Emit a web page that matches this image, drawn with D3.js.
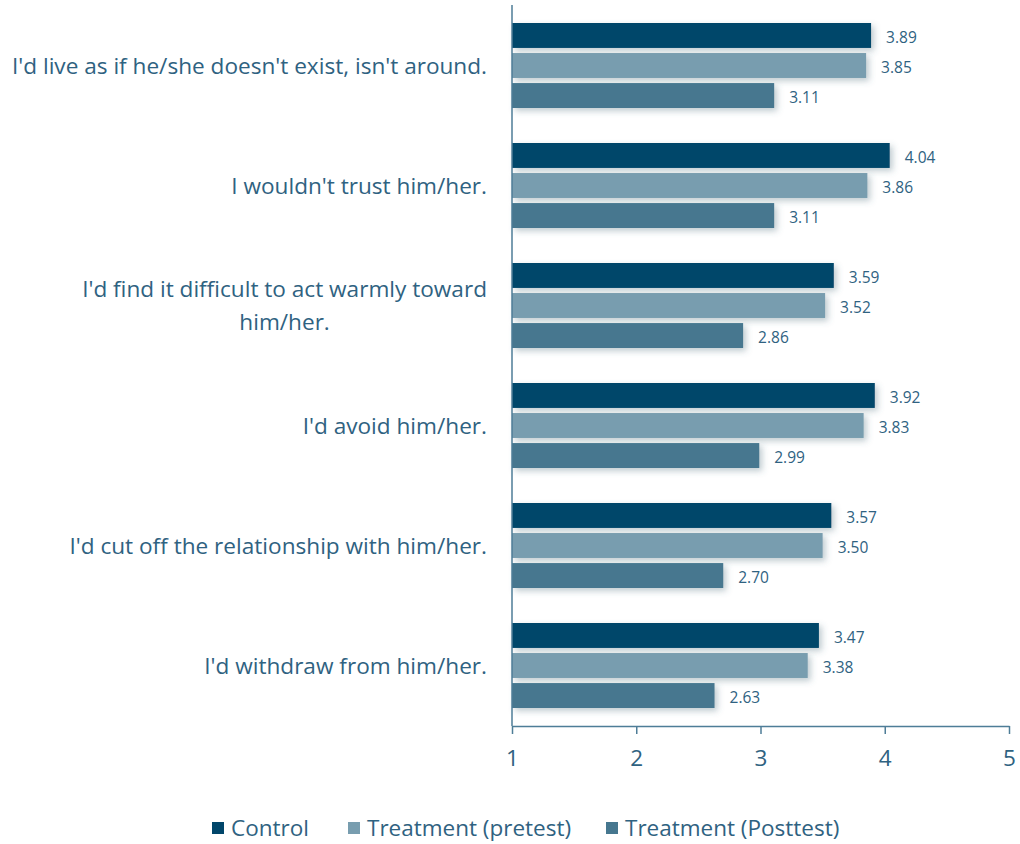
<!DOCTYPE html>
<html>
<head>
<meta charset="utf-8">
<script src="https://cdn.jsdelivr.net/npm/d3@7/dist/d3.min.js"></script>
<style>
  html, body { margin: 0; padding: 0; background: #ffffff; }
  svg { display: block; font-family: "Open Sans", "Noto Sans", sans-serif; }
</style>
</head>
<body>
<svg id="chart" width="1020" height="844"></svg>
<script>
// Statements (categories), top to bottom
const statements = [
  "I'd live as if he/she doesn't exist, isn't around.",
  "I wouldn't trust him/her.",
  "I'd find it difficult to act warmly toward him/her.",
  "I'd avoid him/her.",
  "I'd cut off the relationship with him/her.",
  "I'd withdraw from him/her."
];

// Series names
const seriesNames = ["Control", "Treatment (pretest)", "Treatment (Posttest)"];

// Mean scores per series, in statement order
const controlValues  = [3.89, 4.04, 3.59, 3.92, 3.57, 3.47];
const pretestValues  = [3.85, 3.86, 3.52, 3.83, 3.50, 3.38];
const posttestValues = [3.11, 3.11, 2.86, 2.99, 2.70, 2.63];

// Axis ticks
const xTicks = [1, 2, 3, 4, 5];

const seriesColors = ["#01466a", "#789daf", "#46778f"];
const textColor = "#2f6281";
const axisColor = "#4e7d97";

const seriesValues = [controlValues, pretestValues, posttestValues];
const rows = statements.map((s, i) => ({
  label: s,
  values: seriesNames.map((n, k) => ({ key: n, k, value: seriesValues[k][i] }))
}));

const svg = d3.select("#chart");

// shadow under the bars
const defs = svg.append("defs");
const f = defs.append("filter").attr("id", "barShadow")
  .attr("x", "-5%").attr("y", "-40%").attr("width", "115%").attr("height", "200%");
f.append("feDropShadow").attr("dx", 3).attr("dy", 3).attr("stdDeviation", 3)
  .attr("flood-color", "#4a6a7a").attr("flood-opacity", 0.35);

const plotLeft = 512, plotRight = 1009, plotTop = 6, plotBottom = 726;

const x = d3.scaleLinear().domain([1, 5]).range([plotLeft, plotRight]);
const y = d3.scaleBand().domain(statements).range([plotTop, plotBottom]).padding(0);
const inner = d3.scaleBand().domain(seriesNames).range([17, 102]).paddingInner(0.17);

// bars
const groups = svg.append("g").selectAll("g.group")
  .data(rows).join("g")
  .attr("class", "group")
  .attr("transform", d => `translate(0,${y(d.label)})`);

groups.selectAll("rect")
  .data(d => d.values).join("rect")
  .attr("x", x(1))
  .attr("y", d => inner(d.key))
  .attr("width", d => x(d.value) - x(1))
  .attr("height", inner.bandwidth())
  .attr("fill", d => seriesColors[d.k])
  .attr("filter", "url(#barShadow)");

// value labels
groups.selectAll("text.val")
  .data(d => d.values).join("text")
  .attr("class", "val")
  .attr("x", d => x(d.value) + 15)
  .attr("y", d => inner(d.key) + inner.bandwidth() / 2 + 2)
  .attr("dy", "0.35em")
  .attr("font-size", 15.5)
  .attr("fill", textColor)
  .text(d => d.value.toFixed(2));

// x axis
const xAxis = svg.append("g")
  .attr("transform", `translate(0,${plotBottom})`)
  .call(d3.axisBottom(x).tickValues(xTicks).tickFormat(d3.format("d")).tickSize(8).tickSizeOuter(0));
xAxis.select(".domain").attr("stroke", axisColor).attr("stroke-width", 1.5);
xAxis.selectAll(".tick line").attr("stroke", axisColor).attr("stroke-width", 1.5);
xAxis.selectAll(".tick text")
  .attr("fill", textColor).attr("font-size", 22.5).attr("font-family", "Open Sans, sans-serif")
  .attr("y", 24);

// y axis line
svg.append("line")
  .attr("x1", plotLeft).attr("x2", plotLeft)
  .attr("y1", plotTop - 1).attr("y2", plotBottom)
  .attr("stroke", axisColor).attr("stroke-width", 1.5);

// category labels, wrapped when wider than the label column
const labelRight = 487, maxLabelWidth = 482, lineHeight = 33;
const labelG = svg.append("g").attr("font-size", 22.6).attr("fill", textColor);
rows.forEach(r => {
  const cy = y(r.label) + y.bandwidth() / 2;
  const probe = labelG.append("text").text(r.label);
  const full = probe.node().getComputedTextLength();
  probe.remove();
  if (full <= maxLabelWidth) {
    labelG.append("text").attr("x", labelRight).attr("y", cy).attr("dy", "0.35em")
      .attr("text-anchor", "end").text(r.label);
  } else {
    const words = r.label.split(" ");
    const lines = [];
    let cur = [];
    words.forEach(w => {
      const t = labelG.append("text").text([...cur, w].join(" "));
      const wdt = t.node().getComputedTextLength();
      t.remove();
      if (wdt > maxLabelWidth && cur.length) { lines.push(cur.join(" ")); cur = [w]; }
      else cur.push(w);
    });
    lines.push(cur.join(" "));
    let widest = 0;
    lines.forEach(l => {
      const t = labelG.append("text").text(l);
      widest = Math.max(widest, t.node().getComputedTextLength());
      t.remove();
    });
    const cx = labelRight - widest / 2;
    lines.forEach((l, i) => {
      labelG.append("text").attr("x", cx)
        .attr("y", cy + (i - (lines.length - 1) / 2) * lineHeight)
        .attr("dy", "0.35em").attr("text-anchor", "middle").text(l);
    });
  }
});

// legend
const legendItems = [
  { name: seriesNames[0], sx: 212 },
  { name: seriesNames[1], sx: 348 },
  { name: seriesNames[2], sx: 606 }
];
const legend = svg.append("g").attr("transform", "translate(0,828)");
legend.selectAll("rect").data(legendItems).join("rect")
  .attr("x", d => d.sx).attr("y", -6).attr("width", 12).attr("height", 12)
  .attr("fill", (d, i) => seriesColors[i]);
legend.selectAll("text").data(legendItems).join("text")
  .attr("x", d => d.sx + 19).attr("y", 0).attr("dy", "0.35em")
  .attr("font-size", 22.5).attr("fill", textColor)
  .text(d => d.name);
</script>
</body>
</html>
